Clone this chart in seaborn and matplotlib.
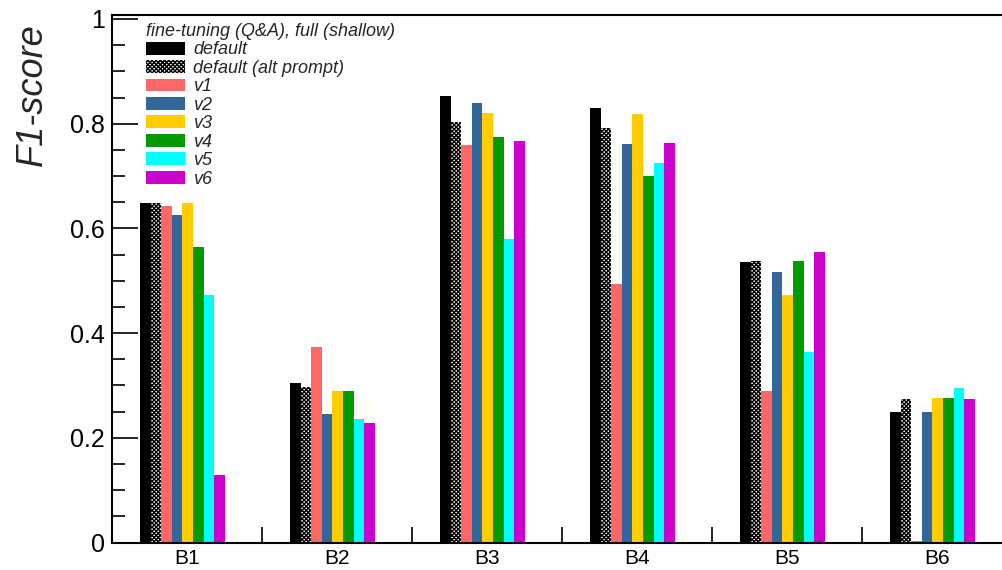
import matplotlib
matplotlib.use("Agg")
import matplotlib.pyplot as plt
import numpy as np
import pandas as pd
import seaborn as sns
from matplotlib.patches import Patch
from matplotlib.ticker import MultipleLocator, FixedLocator, FuncFormatter

# ---- data -----------------------------------------------------------------
categories = ["B1", "B2", "B3", "B4", "B5", "B6"]
series = ["default", "default (alt prompt)", "v1", "v2", "v3", "v4", "v5", "v6"]

f1_default = [0.648, 0.304, 0.852, 0.830, 0.535, 0.249]
f1_default_alt = [0.648, 0.297, 0.803, 0.791, 0.537, 0.274]
f1_v1 = [0.643, 0.373, 0.759, 0.494, 0.289, 0.002]
f1_v2 = [0.625, 0.245, 0.840, 0.761, 0.516, 0.249]
f1_v3 = [0.649, 0.289, 0.820, 0.818, 0.473, 0.276]
f1_v4 = [0.565, 0.289, 0.774, 0.700, 0.538, 0.276]
f1_v5 = [0.472, 0.236, 0.580, 0.725, 0.364, 0.295]
f1_v6 = [0.128, 0.228, 0.766, 0.763, 0.554, 0.275]

series_colors = ["#000000", "#ffffff", "#ff6666", "#336699",
                 "#ffcc00", "#009900", "#00ffff", "#cc00cc"]
legend_title = "fine-tuning (Q&A), full (shallow)"
y_label = "F1-score"

all_values = [f1_default, f1_default_alt, f1_v1, f1_v2, f1_v3, f1_v4, f1_v5, f1_v6]
df = pd.DataFrame(
    [(cat, name, val)
     for name, vals in zip(series, all_values)
     for cat, val in zip(categories, vals)],
    columns=["benchmark", "model", "f1"],
)

# ---- style ----------------------------------------------------------------
sns.set_style("ticks")
plt.rcParams["font.family"] = ["Liberation Sans", "DejaVu Sans"]
plt.rcParams["hatch.linewidth"] = 1.0

fig = plt.figure(figsize=(10.02, 5.70), dpi=100)
W, H = 1002, 570
ax = fig.add_axes([112 / W, 27.5 / H, 900 / W, 527.5 / H])

palette = dict(zip(series, series_colors))
sns.barplot(data=df, x="benchmark", y="f1", hue="model",
            order=categories, hue_order=series, palette=palette,
            width=0.5653, dodge=True, saturation=1, linewidth=0,
            errorbar=None, legend=False, ax=ax)

# checkered fill for the alternative-prompt bars
ALT_HATCH = "xxxxxxxx"
for bar in ax.containers[1]:
    bar.set_facecolor("white")
    bar.set_edgecolor("black")
    bar.set_hatch(ALT_HATCH)
    bar.set_linewidth(0)

# ---- axes -----------------------------------------------------------------
shift = 0.0303
ax.set_xlim(-0.5 + shift, 5.5 + shift)
ax.set_ylim(0, 1.0076)

ax.xaxis.set_major_locator(FixedLocator([i + shift for i in range(len(categories))]))
ax.set_xticklabels(categories)
ax.xaxis.set_minor_locator(FixedLocator([i + 0.5 + shift for i in range(len(categories) - 1)]))
ax.tick_params(axis="x", which="major", length=0, labelsize=15, pad=5, colors="black")
ax.tick_params(axis="x", which="minor", length=11.5, width=1.2, direction="in", color="black")

ax.yaxis.set_major_locator(MultipleLocator(0.2))
ax.yaxis.set_minor_locator(MultipleLocator(0.05))
ax.yaxis.set_major_formatter(FuncFormatter(lambda v, p: f"{v:g}"))
ax.tick_params(axis="y", which="major", length=18.7, width=1.2, direction="in",
               labelsize=18, pad=5, colors="black")
ax.tick_params(axis="y", which="minor", length=9.4, width=1.2, direction="in", color="black")

for side in ["left", "bottom", "top", "right"]:
    ax.spines[side].set_visible(True)
    ax.spines[side].set_linewidth(1.5)
    ax.spines[side].set_color("black")

ax.set_xlabel("")
ax.set_ylabel(y_label, fontsize=26, style="italic", loc="top")
ax.yaxis.set_label_coords(-0.069, 0.985)

# ---- legend ---------------------------------------------------------------
handles = []
for name, col in zip(series, series_colors):
    if name == "default (alt prompt)":
        handles.append(Patch(facecolor="white", edgecolor="black",
                             hatch=ALT_HATCH, linewidth=0))
    else:
        handles.append(Patch(facecolor=col, edgecolor="none", linewidth=0))

leg = fig.legend(handles, series, loc="upper left",
                 bbox_to_anchor=(146 / W, 1 - 23 / H),
                 frameon=False, borderpad=0, borderaxespad=0,
                 prop={"size": 13, "style": "italic"},
                 title=legend_title,
                 title_fontproperties={"size": 13, "style": "italic"},
                 alignment="left",
                 handlelength=2.17, handleheight=0.72,
                 handletextpad=0.45, labelspacing=0.08)

fig.savefig("out.png", dpi=100)
